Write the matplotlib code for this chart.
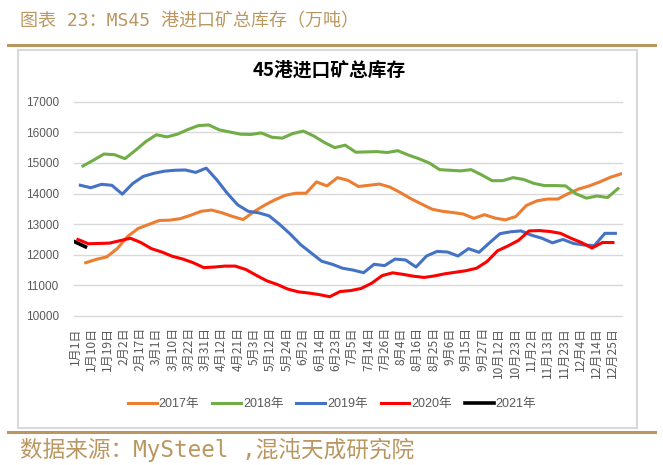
import numpy as np
import matplotlib
matplotlib.use("Agg")
import matplotlib.pyplot as plt
from matplotlib.lines import Line2D
from matplotlib.patches import Rectangle

# x tick labels (category axis, every other category labelled)
dates = ['1月1日', '1月10日', '1月19日', '2月2日', '2月17日', '3月1日', '3月10日',
         '3月22日', '3月31日', '4月12日', '4月21日', '5月3日', '5月12日', '5月24日',
         '6月2日', '6月14日', '6月23日', '7月5日', '7月14日', '7月26日', '8月4日',
         '8月16日', '8月25日', '9月6日', '9月15日', '9月27日', '10月12日', '10月23日',
         '11月2日', '11月13日', '11月23日', '12月4日', '12月14日', '12月25日']

# weekly stock, 万吨
y2017 = [11740, 11850, 11930, 12200, 12600, 12860, 12990, 13120, 13130, 13180,
         13290, 13420, 13460, 13370, 13250, 13150, 13400, 13610, 13790, 13940,
         14010, 14010, 14380, 14250, 14520, 14430, 14230, 14270, 14310, 14210,
         14030, 13830, 13660, 13490, 13420, 13380, 13330, 13190, 13310, 13200,
         13140, 13250, 13610, 13760, 13820, 13820, 14000, 14150, 14250, 14380,
         14530, 14640]
y2018 = [14900, 15090, 15290, 15270, 15140, 15410, 15700, 15920, 15850, 15940,
         16090, 16220, 16240, 16080, 16010, 15940, 15930, 15980, 15840, 15810,
         15960, 16040, 15880, 15670, 15500, 15580, 15350, 15360, 15370, 15340,
         15400, 15260, 15140, 15000, 14780, 14760, 14740, 14780, 14610, 14420,
         14420, 14520, 14460, 14330, 14260, 14260, 14250, 13990, 13850, 13920,
         13870, 14160]
y2019 = [14270, 14190, 14300, 14270, 13980, 14330, 14560, 14660, 14730, 14760,
         14770, 14690, 14830, 14450, 14010, 13630, 13420, 13370, 13270, 12990,
         12680, 12330, 12060, 11790, 11690, 11560, 11500, 11415, 11690, 11645,
         11860, 11830, 11600, 11960, 12110, 12090, 11960, 12200, 12080, 12390,
         12690, 12750, 12780, 12640, 12540, 12390, 12500, 12370, 12320, 12300,
         12700, 12700]
y2020 = [12500, 12360, 12370, 12380, 12460, 12540, 12400, 12200, 12090, 11950,
         11860, 11740, 11580, 11600, 11630, 11630, 11520, 11330, 11150, 11030,
         10880, 10790, 10750, 10700, 10630, 10800, 10830, 10900, 11070, 11320,
         11410, 11360, 11300, 11260, 11310, 11380, 11430, 11480, 11560, 11780,
         12130, 12290, 12470, 12780, 12790, 12760, 12700, 12540, 12400, 12220,
         12400, 12400]
y2021 = [12420, 12260]

years = ['2017年', '2018年', '2019年', '2020年', '2021年']

# where the first week of each year sits on the label axis, and one week in label units
first_week = [0.66, 0.49, 0.33, 0.18, 0.0]
WEEK = 0.6436

colors = ['#ED7D31', '#70AD47', '#4472C4', '#FF0000', '#000000']
GOLD = '#BA9760'
GRAY = '#595959'
CJK = ['Noto Sans CJK SC', 'DejaVu Sans']
NUM = ['Liberation Sans', 'Noto Sans CJK SC']
MONO = ['DejaVu Sans Mono', 'Noto Sans CJK SC']

fig = plt.figure(figsize=(6.63, 4.65), dpi=100)

# header / footer
fig.text(20 / 663, 1 - 21 / 465, '图表 23：MS45 港进口矿总库存（万吨）',
         family=MONO, fontsize=13, color=GOLD, ha='left', va='center')
fig.add_artist(Line2D([8 / 663, 655 / 663], [1 - 45 / 465, 1 - 45 / 465],
                      color=GOLD, lw=2.2))
fig.add_artist(Line2D([8 / 663, 655 / 663], [1 - 432 / 465, 1 - 432 / 465],
                      color=GOLD, lw=2.2))
fig.text(20 / 663, 1 - 450 / 465, '数据来源：MySteel ,混沌天成研究院',
         family=MONO, fontsize=16.3, color=GOLD, ha='left', va='center')

# chart frame
fig.add_artist(Rectangle((18 / 663, 1 - 428 / 465), (637 - 18) / 663, (428 - 50) / 465,
                         fill=False, edgecolor='#D9D9D9', lw=1.5))

fig.text(0.497, 1 - 70 / 465, '45港进口矿总库存', family=CJK, fontsize=13.5,
         fontweight='bold', ha='center', va='center', color='black')

ax = fig.add_axes([74 / 663, 1 - 316 / 465, (622 - 74) / 663, (316 - 101.7) / 465])

for vals, start, c, name in zip([y2017, y2018, y2019, y2020, y2021], first_week,
                                colors, years):
    x = start + np.arange(len(vals)) * WEEK
    ax.plot(x, vals, color=c, lw=2.6 if name == '2021年' else 2.2,
            solid_joinstyle='round', label=name)

ax.set_ylim(10000, 17000)
ax.set_yticks(range(10000, 17001, 1000))
ax.set_xlim(-0.06, 33.56)
ax.set_xticks(range(len(dates)))
ax.set_xticklabels(dates, rotation=90, family=CJK, fontsize=8.7, color=GRAY)
for lab in ax.get_yticklabels():
    lab.set_family(NUM)
    lab.set_fontsize(8.5)
    lab.set_color(GRAY)
ax.tick_params(axis='both', length=0)
ax.tick_params(axis='x', pad=8)
ax.tick_params(axis='y', pad=11)
ax.grid(axis='y', color='#D9D9D9', lw=1)
for gl in ax.get_ygridlines():
    gl.set_clip_on(False)
for s in ax.spines.values():
    s.set_visible(False)
ax.set_axisbelow(True)

fig.legend(loc='center', bbox_to_anchor=(332 / 663, 1 - 404 / 465), ncol=5,
           frameon=False, prop={'family': NUM, 'size': 9}, labelcolor=GRAY,
           handlelength=2.3, handletextpad=0.15, columnspacing=1.05)

fig.savefig('out.png', dpi=100)
